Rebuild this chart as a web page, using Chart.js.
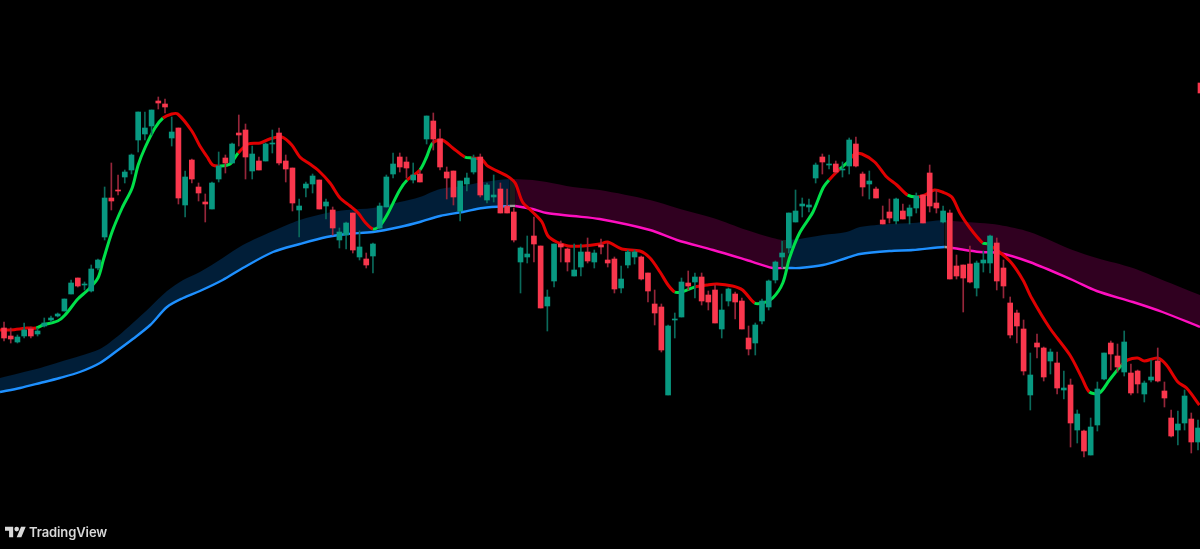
<!DOCTYPE html>
<html>
<head>
<meta charset="utf-8">
<title>TradingView chart</title>
<script src="https://cdn.jsdelivr.net/npm/chart.js@4"></script>
<style>
    html, body { margin: 0; padding: 0; background: #000; overflow: hidden; }
    #chart { display: block; }
    .brand { position: absolute; left: 5px; top: 524px; display: flex; align-items: center; color: #d9d9d9; font: 600 13px Inter, sans-serif; letter-spacing: -0.1px; }
    .brand svg { width: 21px; height: 16px; margin-right: 3px; fill: #d9d9d9; }
</style>
</head>
<body>
<canvas id="chart" width="1200" height="549"></canvas>
<div class="brand">
    <svg viewBox="0 0 36 26"><path d="M14 22H7V11H0V4h14v18zM28 22h-8l7.5-18h8L28 22z"></path><circle cx="20" cy="8" r="4"></circle></svg>
    <span>TradingView</span>
</div>
<script>
    const candleOpen = [221,213,207,213,220,215,223,229,233,238,255,271,264,258,281,312,351,359,372,379,409,415,423,448,445,411,421,344,389,362,347,340,370,391,386,416,419,378,388,388,405,416,388,381,339,361,365,369,343,339,309,314,336,292,290,293,321,342,375,392,387,369,375,410,428,410,377,378,338,365,377,392,349,352,360,343,337,287,292,313,303,243,268,305,300,273,282,297,287,304,289,290,261,284,292,292,276,245,242,154,229,232,266,267,272,254,259,220,248,255,248,211,206,228,242,269,292,301,327,343,342,371,392,384,385,379,383,405,375,365,360,329,337,328,338,333,341,354,376,346,327,336,283,284,285,261,286,286,306,281,246,236,220,154,206,201,188,186,159,164,119,118,94,124,170,206,193,177,176,178,155,169,188,158,131,119,126,130,107];
    const candleHigh = [227,221,214,226,222,221,231,233,236,250,269,271,267,284,290,362,386,374,379,395,437,437,439,452,450,432,421,378,390,366,355,367,397,394,406,434,425,403,392,406,419,421,394,381,350,367,375,369,350,342,321,327,336,318,296,306,346,374,396,396,392,386,379,433,436,420,382,378,368,376,394,395,366,374,366,360,341,302,313,332,303,259,305,308,301,305,305,311,299,310,306,292,283,299,299,293,276,259,245,224,236,271,278,276,276,258,264,255,261,257,251,223,226,250,269,288,308,336,359,351,350,386,395,394,388,387,411,412,377,378,362,343,350,351,345,344,356,354,384,359,343,339,294,284,303,288,298,314,311,289,252,239,229,196,215,202,200,197,178,170,139,119,131,167,196,208,205,218,185,179,168,189,201,167,139,138,159,136,129];
    const candleLow = [208,206,206,211,211,213,222,227,232,238,255,262,259,257,279,309,339,354,366,375,397,409,414,440,436,403,345,332,366,348,327,340,367,376,386,403,370,370,379,388,396,384,367,338,312,352,356,340,330,314,301,300,296,289,281,276,320,342,371,377,371,366,367,405,399,379,350,344,328,358,375,352,346,347,336,336,307,256,286,287,241,218,262,287,278,273,273,286,281,295,282,256,256,281,285,269,247,224,197,154,211,232,259,251,244,239,226,211,243,230,220,194,194,225,239,266,281,296,327,332,337,366,375,380,376,372,375,382,353,350,351,325,326,325,330,325,336,326,337,336,326,270,270,237,266,253,277,276,259,251,211,206,174,139,191,168,175,155,150,102,106,92,94,118,169,179,177,173,154,156,147,167,167,142,112,104,119,96,99];
    const candleClose = [211,210,212,219,213,218,226,231,235,250,266,263,265,280,289,351,348,358,377,394,437,421,439,446,442,417,351,372,370,356,345,366,383,386,405,414,392,395,379,405,406,386,380,346,343,365,373,340,347,321,317,326,299,302,284,305,343,372,385,382,381,374,367,433,410,382,371,352,368,371,391,354,364,354,336,336,309,301,295,305,241,252,305,302,287,279,297,288,296,302,286,260,270,297,297,270,258,236,199,223,230,267,263,272,248,247,226,239,260,247,220,200,224,248,268,287,296,336,338,345,344,384,387,385,377,380,409,383,362,368,351,325,331,350,330,341,353,326,343,341,338,270,273,271,267,286,289,313,268,263,214,223,178,174,202,172,197,161,161,126,135,98,122,160,196,195,182,207,156,165,166,172,168,151,113,125,153,107,121];

    const fastBar = [-0.6,0.9,2.4,3.4,4.8,5.8,8,9.1,11,12.5,14,14.8,16.1,17.6,19.1,20,21,22.5,23.7,25,25.9,28,29.2,30.3,31.1,32.2,33.7,34.9,36.4,38.2,39.6,41.4,42.9,44.1,45.6,46.8,48.6,50.1,51.6,52.8,53.8,55,56,57.1,59,60.1,62,63,63.9,65.3,66.9,68.7,69.7,71.2,72.1,75,76.2,77.3,78.8,80.2,81.1,82.4,84.1,86.3,88.8,90,92.1,94.8,96.3,97.8,99,100,101,103,104.8,106.3,108.6,110.1,111.9,113.1,114.6,116.1,117.1,118.6,120.6,122.1,123,124.6,125.8,126.8,127.9,129.8,131.6,133.1,134.7,136.1,137.3,138.7,139.9,141.3,142.5,144,145.9,146.6,148.4,150.2,151.9,153.2,155.9,158.9,160.7,161.8,163.3,164.8,166.6,167.5,169,170,172,173.3,175,176.3,178.2];
    const fastValue = [219,219,220,221,221,224,228,234,250,259,271,289,317,341,361,384,401,421,431,435,435,418,403,392,384,383,385,396,405,406,410,412,404,392,385,379,366,351,343,336,327,320,323,334,359,369,379,392,406,409,401,392,391,390,383,373,366,347,337,327,313,307,303,303,305,307,300,298,291,277,264,257,257,262,264,265,263,259,246,246,251,266,291,316,337,361,369,380,387,395,395,387,372,364,354,352,354,359,357,352,336,321,306,305,297,286,269,251,221,194,171,157,156,169,184,189,191,188,191,184,167,161,144];
    const fastRisingBars = [[4.8,23.7],[32.2,34.9],[55,60.1],[62,63.9],[68.7,69.7],[100,103],[111.9,123],[124.6,125.8],[134.7,136.1],[145.9,146.6],[161.8,166.6]];

    const slowBar = [-0.6,2.4,5.4,8.3,11.3,14.3,17,19.2,21.8,24.3,26.7,29.2,32.6,35.6,40.1,44.1,48.1,51.1,55,59,62,65,68.4,71.4,75.4,76.2,78.8,80.9,84.8,88.8,96.3,100.3,105.7,110.7,114.6,116.1,116.9,118.6,122.1,125.6,127.6,132,135.5,140.2,141.4,145.5,148.4,152.9,159.3,162.9,168.3,172.7,178.3];
    const slowValue = [157,161,166,171,177,186,199,210,224,242,251,258,269,281,297,305,312,315,317,322,327,333,337,341,343,343,340,336,333,330,319,309,299,289,281,281,281,281,284,291,295,298,299,302,301,297,296,287,269,258,247,237,222];
    const upperValue = [171,176,181,187,193,200,213,226,242,258,269,277,291,304,318,329,336,339,341,347,352,360,363,367,370,370,369,367,362,359,349,341,331,319,311,309,309,310,314,317,322,325,326,329,328,326,324,317,299,291,281,269,254];
    const slowFallingBars = [[76.2,116.1],[141.4,178.3]];
    const slowSwitchBars = [[75.4,76.2],[116.1,116.9],[140.2,141.4]];

    const priceTagBar = 178.3;
    const priceTagRange = [456, 466];

    const GREEN = '#089981';
    const RED = '#f9374d';
    const GREEN_WICK = '#0b6a5b';
    const RED_WICK = '#96263a';

    function inRanges(ranges, from, to) {
        return ranges.some(range => from >= range[0] && to <= range[1]);
    }

    function slowColor(ctx, rising, falling, change) {
        if (inRanges(slowSwitchBars, ctx.p0.parsed.x, ctx.p1.parsed.x)) return change;
        return inRanges(slowFallingBars, ctx.p0.parsed.x, ctx.p1.parsed.x) ? falling : rising;
    }

    const isUp = candleOpen.map((open, i) => candleClose[i] >= open);

    const wicks = {
        type: 'bar',
        data: candleOpen.map((open, i) => ({x: i, y: [candleLow[i], candleHigh[i]]})),
        backgroundColor: isUp.map(up => up ? GREEN_WICK : RED_WICK),
        barThickness: 1,
        grouped: false,
        order: 1
    };

    const bodies = {
        type: 'bar',
        data: candleOpen.map((open, i) => ({x: i, y: [open, candleClose[i]]})),
        backgroundColor: isUp.map(up => up ? GREEN : RED),
        barThickness: 5,
        grouped: false,
        order: 0
    };

    const priceTag = {
        type: 'bar',
        data: [{x: priceTagBar, y: priceTagRange}],
        backgroundColor: RED,
        barThickness: 4,
        grouped: false,
        order: 0
    };

    const fastLine = {
        type: 'line',
        data: fastBar.map((bar, i) => ({x: bar, y: fastValue[i]})),
        borderColor: '#e00000',
        borderWidth: 3,
        pointRadius: 0,
        tension: 0.3,
        segment: {
            borderColor: ctx => inRanges(fastRisingBars, ctx.p0.parsed.x, ctx.p1.parsed.x) ? '#00e04a' : '#e00000'
        },
        order: 2
    };

    const upperBand = {
        type: 'line',
        data: slowBar.map((bar, i) => ({x: bar, y: upperValue[i]})),
        borderWidth: 0,
        borderColor: 'transparent',
        pointRadius: 0,
        tension: 0.3,
        fill: '+1',
        backgroundColor: '#011e38',
        segment: {
            backgroundColor: ctx => slowColor(ctx, '#011e38', '#300020', '#1c1c1c')
        },
        order: 4
    };

    const slowLine = {
        type: 'line',
        data: slowBar.map((bar, i) => ({x: bar, y: slowValue[i]})),
        borderColor: '#1e90ff',
        borderWidth: 2.4,
        pointRadius: 0,
        tension: 0.3,
        segment: {
            borderColor: ctx => slowColor(ctx, '#1e90ff', '#ff0fc0', '#9a9a9a')
        },
        order: 3
    };

    new Chart(document.getElementById('chart'), {
        data: {
            datasets: [bodies, wicks, priceTag, fastLine, upperBand, slowLine]
        },
        options: {
            responsive: false,
            animation: false,
            layout: {padding: 0},
            scales: {
                x: {type: 'linear', display: false, offset: false, min: -0.6, max: 178.3},
                y: {type: 'linear', display: false, min: 0, max: 549}
            },
            plugins: {
                legend: {display: false},
                tooltip: {enabled: false}
            }
        }
    });
</script>
</body>
</html>
